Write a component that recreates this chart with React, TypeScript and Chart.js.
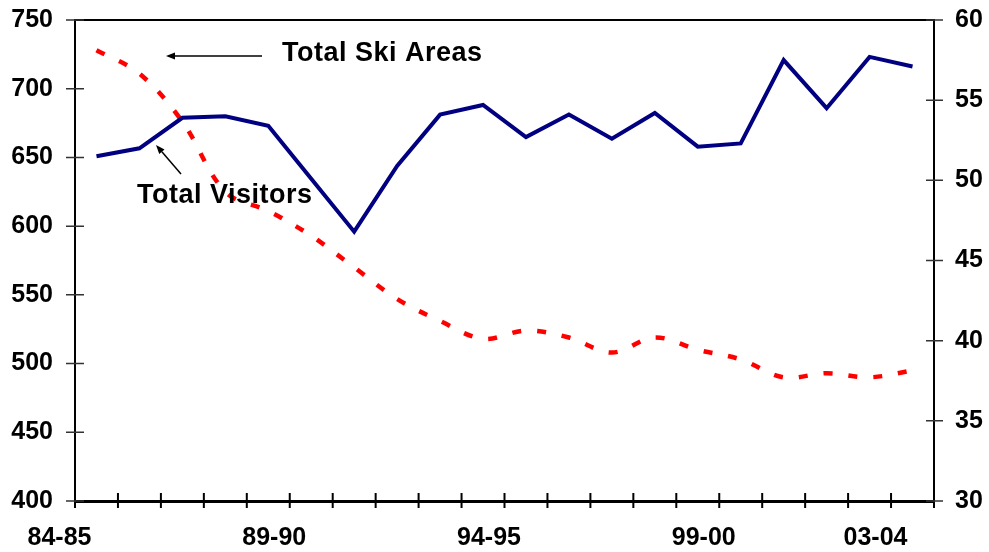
import React, { useEffect, useRef } from "react";
import { Chart, registerables } from "chart.js";

Chart.register(...registerables);

// ---- data ----
const seasons = [
  "84-85", "85-86", "86-87", "87-88", "88-89", "89-90", "90-91", "91-92", "92-93", "93-94",
  "94-95", "95-96", "96-97", "97-98", "98-99", "99-00", "00-01", "01-02", "02-03", "03-04",
];
const shownSeasonLabels = ["84-85", "89-90", "94-95", "99-00", "03-04"];
const totalSkiAreas = [728, 711, 676, 625, 611, 593, 570, 547, 531, 518, 524, 519, 508, 519, 510, 503, 490, 493, 490, 495];
const totalVisitors = [51.5, 52.0, 53.9, 54.0, 53.4, 50.1, 46.8, 50.9, 54.1, 54.7, 52.7, 54.1, 52.6, 54.2, 52.1, 52.3, 57.5, 54.5, 57.7, 57.1];
const leftAxisTicks = [400, 450, 500, 550, 600, 650, 700, 750];
const rightAxisTicks = [30, 35, 40, 45, 50, 55, 60];
const annotationSkiAreas = "Total Ski Areas";
const annotationVisitors = "Total Visitors";

const FONT = '"Liberation Sans", Arial, Helvetica, sans-serif';

function arrow(ctx: CanvasRenderingContext2D, x0: number, y0: number, x1: number, y1: number) {
  const ang = Math.atan2(y1 - y0, x1 - x0);
  const headLen = 9;
  const headHalf = 3.5;
  const bx = x1 - headLen * Math.cos(ang);
  const by = y1 - headLen * Math.sin(ang);
  ctx.beginPath();
  ctx.moveTo(x0, y0);
  ctx.lineTo(bx, by);
  ctx.stroke();
  ctx.beginPath();
  ctx.moveTo(x1, y1);
  ctx.lineTo(bx + headHalf * Math.sin(ang), by - headHalf * Math.cos(ang));
  ctx.lineTo(bx - headHalf * Math.sin(ang), by + headHalf * Math.cos(ang));
  ctx.closePath();
  ctx.fill();
}

const decorPlugin = {
  id: "decor",
  afterDraw(chart: any) {
    const { ctx, chartArea, scales } = chart;
    const xs = scales.x;
    const ys = scales.y;
    const y1s = scales.y1;
    ctx.save();
    // top frame line
    ctx.strokeStyle = "#000";
    ctx.lineWidth = 2;
    ctx.beginPath();
    ctx.moveTo(chartArea.left - 1, chartArea.top);
    ctx.lineTo(chartArea.right + 1, chartArea.top);
    ctx.stroke();

    // x tick marks at category boundaries (crossing)
    ctx.lineWidth = 2;
    ctx.beginPath();
    for (let i = 0; i <= seasons.length; i++) {
      const px = xs.getPixelForValue(i - 0.5);
      ctx.moveTo(px, chartArea.bottom - 8);
      ctx.lineTo(px, chartArea.bottom + 7);
    }
    ctx.stroke();

    // y tick marks (crossing)
    ctx.strokeStyle = "#333";
    ctx.lineWidth = 1.5;
    ctx.beginPath();
    ys.ticks.forEach((_t: any, i: number) => {
      const py = ys.getPixelForTick(i);
      ctx.moveTo(chartArea.left - 9, py);
      ctx.lineTo(chartArea.left + 9, py);
    });
    y1s.ticks.forEach((_t: any, i: number) => {
      const py = y1s.getPixelForTick(i);
      ctx.moveTo(chartArea.right - 8, py);
      ctx.lineTo(chartArea.right + 9, py);
    });
    ctx.stroke();

    // annotations
    ctx.fillStyle = "#000";
    ctx.strokeStyle = "#000";
    ctx.lineWidth = 1.5;
    ctx.font = `bold 27px ${FONT}`;
    (ctx as any).letterSpacing = "0.5px";
    ctx.textBaseline = "alphabetic";
    ctx.textAlign = "left";
    ctx.fillText(annotationSkiAreas, 282, 61);
    ctx.fillText(annotationVisitors, 137, 203);
    (ctx as any).letterSpacing = "0px";
    arrow(ctx, 262, 56, 166, 56);
    arrow(ctx, 181, 174, 156, 145);
    ctx.restore();
  },
};

export default function App() {
  const canvasRef = useRef<HTMLCanvasElement | null>(null);

  useEffect(() => {
    document.body.style.margin = "0";
    const canvas = canvasRef.current;
    if (!canvas) return;
    const tickFont = { family: FONT, size: 25, weight: "bold" as const };
    const chart = new Chart(canvas, {
      type: "line",
      data: {
        labels: seasons,
        datasets: [
          {
            label: "Total Visitors",
            data: totalVisitors,
            yAxisID: "y1",
            borderColor: "#000080",
            backgroundColor: "#000080",
            borderWidth: 4,
            tension: 0,
            pointRadius: 0,
            fill: false,
          },
          {
            label: "Total Ski Areas",
            data: totalSkiAreas,
            yAxisID: "y",
            borderColor: "#FF0000",
            backgroundColor: "#FF0000",
            borderWidth: 4.5,
            borderDash: [9, 16],
            borderCapStyle: "butt",
            tension: 0.35,
            pointRadius: 0,
            fill: false,
          },
        ],
      },
      options: {
        responsive: false,
        animation: false,
        events: [],
        layout: { padding: { top: 20, left: 0, right: 0, bottom: 0 } },
        plugins: {
          legend: { display: false },
          tooltip: { enabled: false },
          title: { display: false },
        },
        scales: {
          x: {
            type: "category",
            offset: true,
            grid: { display: false, drawTicks: false, offset: true },
            border: { display: true, color: "#000", width: 3 },
            ticks: {
              autoSkip: false,
              maxRotation: 0,
              minRotation: 0,
              padding: 22,
              labelOffset: -37,
              color: "#000",
              font: tickFont,
              callback: (_v: any, i: number) =>
                shownSeasonLabels.includes(seasons[i]) ? seasons[i] : "",
            },
            afterFit: (s: any) => {
              s.height = 51;
              s.paddingLeft = 0;
              s.paddingRight = 0;
            },
          },
          y: {
            type: "linear",
            position: "left",
            min: leftAxisTicks[0],
            max: leftAxisTicks[leftAxisTicks.length - 1],
            grid: { display: false, drawTicks: false },
            border: { display: true, color: "#000", width: 2 },
            afterBuildTicks: (s: any) => {
              s.ticks = leftAxisTicks.map((v) => ({ value: v }));
            },
            ticks: { padding: 22, color: "#000", font: tickFont },
            afterFit: (s: any) => {
              s.width = 75;
              s.paddingTop = 0;
              s.paddingBottom = 0;
            },
          },
          y1: {
            type: "linear",
            position: "right",
            min: rightAxisTicks[0],
            max: rightAxisTicks[rightAxisTicks.length - 1],
            grid: { display: false, drawTicks: false, drawOnChartArea: false },
            border: { display: true, color: "#000", width: 2 },
            afterBuildTicks: (s: any) => {
              s.ticks = rightAxisTicks.map((v) => ({ value: v }));
            },
            ticks: { padding: 21, color: "#000", font: tickFont },
            afterFit: (s: any) => {
              s.width = 55;
              s.paddingTop = 0;
              s.paddingBottom = 0;
            },
          },
        },
      } as any,
      plugins: [decorPlugin],
    });
    return () => chart.destroy();
  }, []);

  return (
    <div style={{ width: 989, height: 552, background: "#fff" }}>
      <canvas ref={canvasRef} width={989} height={552} style={{ display: "block" }} />
    </div>
  );
}
